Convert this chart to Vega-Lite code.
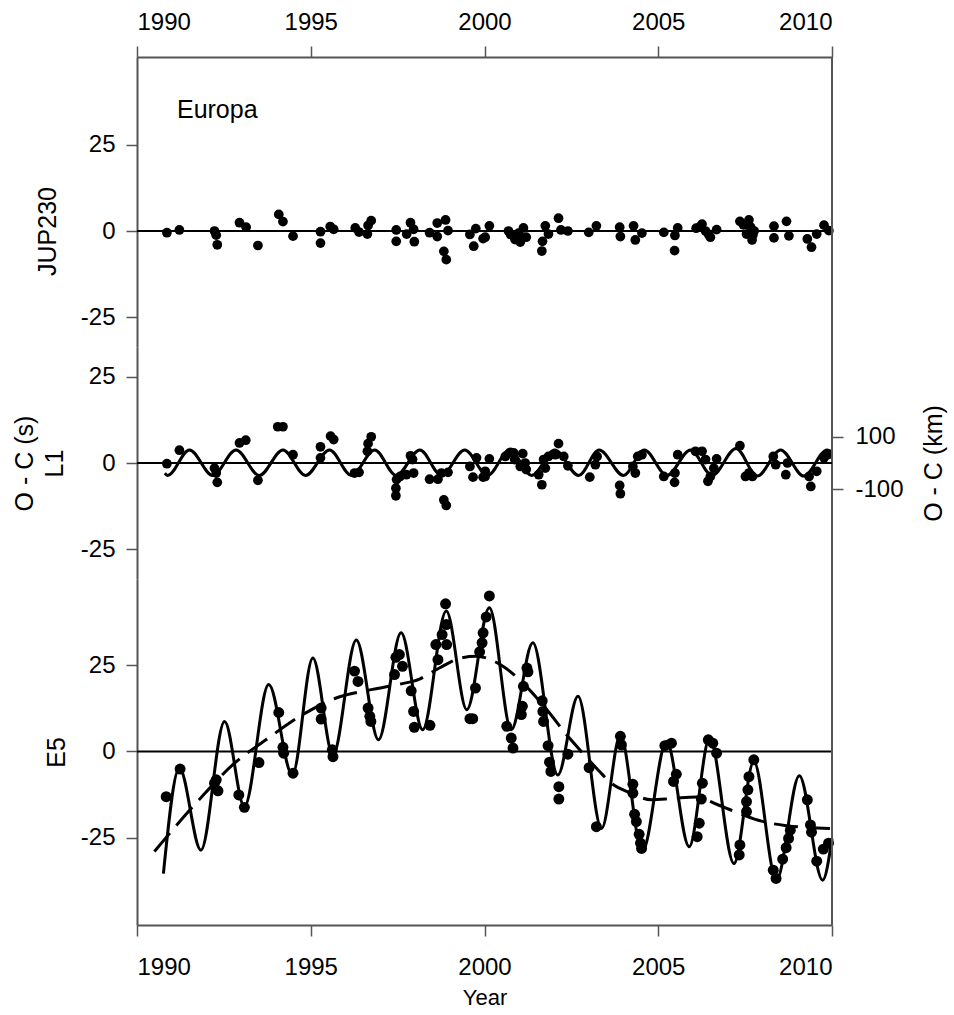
{
  "$schema": "https://vega.github.io/schema/vega-lite/v6.json",
  "background": "white",
  "padding": {"left": 11, "top": 10, "right": 4, "bottom": 4},
  "spacing": 0,
  "bounds": "flush",
  "config": {
    "view": {"stroke": null},
    "font": "Liberation Sans",
    "text": {"font": "Liberation Sans"},
    "axis": {
      "labelFont": "Liberation Sans", "titleFont": "Liberation Sans",
      "labelFontSize": 24, "titleFontSize": 25, "titleFontWeight": "normal",
      "labelColor": "black", "titleColor": "black",
      "domainColor": "#555555", "domainWidth": 2,
      "tickColor": "#555555", "tickWidth": 1.5, "tickSize": 11,
      "labelPadding": 11, "grid": false
    }
  },
  "datasets": {
    "one": [{}],
    "jup": [
      {"year":1990.86,"oc":-0.5},{"year":1991.22,"oc":0.3},{"year":1992.23,"oc":0},{"year":1992.28,"oc":-1.2},{"year":1992.31,"oc":-4},
      {"year":1992.95,"oc":2.4},{"year":1993.14,"oc":1.1},{"year":1993.48,"oc":-4.2},{"year":1994.08,"oc":4.8},{"year":1994.2,"oc":2.7},
      {"year":1994.49,"oc":-1.5},{"year":1995.28,"oc":-0.2},{"year":1995.28,"oc":-3.5},{"year":1995.56,"oc":1.3},{"year":1995.66,"oc":0.5},
      {"year":1996.28,"oc":0.9},{"year":1996.39,"oc":-0.3},{"year":1996.63,"oc":-0.9},{"year":1996.65,"oc":1.6},{"year":1996.74,"oc":3.0},
      {"year":1997.46,"oc":0.3},{"year":1997.46,"oc":-3},{"year":1997.76,"oc":-0.9},{"year":1997.87,"oc":2.4},{"year":1997.96,"oc":0.5},
      {"year":1997.98,"oc":-3.1},{"year":1998.42,"oc":-0.5},{"year":1998.64,"oc":-1.6},{"year":1998.64,"oc":2.3},{"year":1998.88,"oc":3.2},
      {"year":1998.95,"oc":0.1},{"year":1998.83,"oc":-5.9},{"year":1998.9,"oc":-8.3},{"year":1999.58,"oc":-1},{"year":1999.69,"oc":-4.4},
      {"year":1999.75,"oc":0.7},{"year":1999.96,"oc":-2.2},{"year":2000.02,"oc":-1.8},{"year":2000.14,"oc":1.5},{"year":2000.69,"oc":0},
      {"year":2000.75,"oc":-1},{"year":2000.82,"oc":-1.3},{"year":2000.88,"oc":-2.5},{"year":2000.98,"oc":-0.6},{"year":2001.03,"oc":-3.2},
      {"year":2001.08,"oc":-2.2},{"year":2001.12,"oc":0.9},{"year":2001.2,"oc":-1.8},{"year":2001.65,"oc":-5.8},{"year":2001.67,"oc":-3},
      {"year":2001.75,"oc":1.5},{"year":2001.84,"oc":-0.9},{"year":2002.13,"oc":3.7},{"year":2002.2,"oc":0.3},{"year":2002.4,"oc":0},
      {"year":2003.0,"oc":-0.4},{"year":2003.22,"oc":1.5},{"year":2003.89,"oc":1.1},{"year":2003.91,"oc":-1.6},{"year":2004.29,"oc":1.5},
      {"year":2004.34,"oc":-2.6},{"year":2004.53,"oc":-0.6},{"year":2005.16,"oc":-0.4},{"year":2005.47,"oc":-5.7},{"year":2005.48,"oc":-1.3},
      {"year":2005.56,"oc":0.9},{"year":2006.09,"oc":0.8},{"year":2006.2,"oc":1.2},{"year":2006.26,"oc":2},{"year":2006.36,"oc":0},
      {"year":2006.45,"oc":-1.0},{"year":2006.5,"oc":-1.8},{"year":2006.68,"oc":0.4},{"year":2007.35,"oc":2.8},{"year":2007.45,"oc":1.8},
      {"year":2007.54,"oc":-0.9},{"year":2007.61,"oc":3.2},{"year":2007.66,"oc":1.1},{"year":2007.7,"oc":-2.6},{"year":2007.72,"oc":-1.2},
      {"year":2007.76,"oc":0},{"year":2008.33,"oc":1.4},{"year":2008.33,"oc":-2},{"year":2008.69,"oc":2.8},{"year":2008.76,"oc":-1.4},
      {"year":2009.29,"oc":-2.3},{"year":2009.41,"oc":-4.7},{"year":2009.56,"oc":-0.9},{"year":2009.77,"oc":1.7},{"year":2009.91,"oc":0.1}
    ],
    "l1": [
      {"year":1990.86,"oc":-0.2},{"year":1991.22,"oc":3.7},{"year":1992.23,"oc":-1.5},{"year":1992.28,"oc":-2.9},{"year":1992.31,"oc":-5.6},
      {"year":1992.95,"oc":5.8},{"year":1993.13,"oc":6.6},{"year":1993.48,"oc":-5.0},{"year":1994.05,"oc":10.5},{"year":1994.2,"oc":10.5},
      {"year":1994.49,"oc":2.4},{"year":1995.28,"oc":4.7},{"year":1995.28,"oc":1.5},{"year":1995.57,"oc":7.8},{"year":1995.66,"oc":6.8},
      {"year":1996.26,"oc":-2.9},{"year":1996.39,"oc":-2.7},{"year":1996.63,"oc":3.4},{"year":1996.65,"oc":5.6},{"year":1996.74,"oc":7.6},
      {"year":1997.47,"oc":-4.8},{"year":1997.45,"oc":-7.3},{"year":1997.45,"oc":-9.5},{"year":1997.57,"oc":-3.9},{"year":1997.75,"oc":-3.4},
      {"year":1997.87,"oc":2.1},{"year":1997.96,"oc":-2.9},{"year":1997.93,"oc":1},{"year":1998.42,"oc":-4.7},{"year":1998.66,"oc":-4.7},
      {"year":1998.76,"oc":-2.9},{"year":1998.95,"oc":-2.7},{"year":1998.83,"oc":-10.7},{"year":1998.9,"oc":-12.3},{"year":1999.58,"oc":-1},
      {"year":1999.67,"oc":-4.1},{"year":1999.77,"oc":1.5},{"year":1999.96,"oc":-4.1},{"year":2000.02,"oc":-2.4},{"year":2000.02,"oc":-3.9},
      {"year":2000.14,"oc":1.2},{"year":2000.6,"oc":1.9},{"year":2000.74,"oc":3.1},{"year":2000.84,"oc":2.9},{"year":2000.87,"oc":1},
      {"year":2001.03,"oc":-1},{"year":2001.1,"oc":2.7},{"year":2001.17,"oc":0},{"year":2001.2,"oc":-1.9},{"year":2001.56,"oc":-3.4},
      {"year":2001.65,"oc":-6.3},{"year":2001.7,"oc":1},{"year":2001.75,"oc":-1.5},{"year":2001.84,"oc":1.9},{"year":2002.04,"oc":2.4},
      {"year":2002.13,"oc":5.6},{"year":2002.28,"oc":1.9},{"year":2002.4,"oc":-0.8},{"year":2003.03,"oc":-4.1},{"year":2003.19,"oc":-0.5},
      {"year":2003.24,"oc":1.9},{"year":2003.89,"oc":-6.5},{"year":2003.91,"oc":-8.9},{"year":2004.27,"oc":-1},{"year":2004.34,"oc":-2.9},
      {"year":2004.41,"oc":1.9},{"year":2004.53,"oc":2.4},{"year":2005.16,"oc":-3.9},{"year":2005.47,"oc":-5.6},{"year":2005.48,"oc":-2.9},
      {"year":2005.56,"oc":2.4},{"year":2006.07,"oc":3.4},{"year":2006.26,"oc":3.4},{"year":2006.36,"oc":1},{"year":2006.43,"oc":-5.3},
      {"year":2006.5,"oc":-3.9},{"year":2006.6,"oc":-1.5},{"year":2006.68,"oc":1.2},{"year":2007.35,"oc":5},{"year":2007.51,"oc":-3.9},
      {"year":2007.61,"oc":-2.9},{"year":2007.71,"oc":-3.9},{"year":2008.31,"oc":1.9},{"year":2008.38,"oc":-0.5},{"year":2008.67,"oc":-3.4},
      {"year":2008.72,"oc":0},{"year":2009.34,"oc":-3.9},{"year":2009.39,"oc":-6.8},{"year":2009.56,"oc":-2.4},{"year":2009.77,"oc":1.5},
      {"year":2009.87,"oc":2.4}
    ],
    "l1fit": [
      {"year":1990.8,"oc":-3.0},{"year":1990.88,"oc":-3.6},{"year":1991.51,"oc":3.8},{"year":1992.18,"oc":-3.6},{"year":1992.85,"oc":3.8},
      {"year":1993.52,"oc":-3.6},{"year":1994.2,"oc":3.8},{"year":1994.85,"oc":-3.6},{"year":1995.54,"oc":3.8},{"year":1996.17,"oc":-3.6},
      {"year":1996.84,"oc":3.8},{"year":1997.46,"oc":-3.6},{"year":1998.14,"oc":3.8},{"year":1998.76,"oc":-3.6},{"year":1999.43,"oc":3.8},
      {"year":2000.09,"oc":-3.6},{"year":2000.72,"oc":3.8},{"year":2001.36,"oc":-3.6},{"year":2002.02,"oc":3.8},{"year":2002.71,"oc":-3.6},
      {"year":2003.3,"oc":3.8},{"year":2004.0,"oc":-3.6},{"year":2004.6,"oc":3.8},{"year":2005.25,"oc":-3.6},{"year":2005.93,"oc":3.8},
      {"year":2006.55,"oc":-3.6},{"year":2007.24,"oc":4.2},{"year":2007.85,"oc":-3.8},{"year":2008.52,"oc":3.8},{"year":2009.19,"oc":-3.8},
      {"year":2009.86,"oc":3.8},{"year":2010.0,"oc":3.2}
    ],
    "e5": [
      {"year":1990.84,"oc":-13.1},{"year":1991.24,"oc":-5.1},{"year":1992.23,"oc":-9.2},{"year":1992.33,"oc":-11.4},{"year":1992.28,"oc":-8.2},
      {"year":1992.93,"oc":-12.6},{"year":1993.09,"oc":-16.2},{"year":1993.51,"oc":-3.2},{"year":1994.08,"oc":11.3},{"year":1994.2,"oc":1.2},
      {"year":1994.22,"oc":-0.5},{"year":1994.49,"oc":-6.3},{"year":1995.3,"oc":12.6},{"year":1995.3,"oc":9.4},{"year":1995.62,"oc":0.5},
      {"year":1995.64,"oc":-1.5},{"year":1996.26,"oc":23.3},{"year":1996.36,"oc":20.3},{"year":1996.65,"oc":12.6},{"year":1996.7,"oc":10.2},
      {"year":1996.73,"oc":8.7},{"year":1997.41,"oc":22.3},{"year":1997.45,"oc":27.3},{"year":1997.55,"oc":28.1},{"year":1997.64,"oc":24.7},
      {"year":1997.89,"oc":17.6},{"year":1997.96,"oc":11.6},{"year":1997.98,"oc":7},{"year":1998.43,"oc":7.6},{"year":1998.6,"oc":31},
      {"year":1998.66,"oc":26.6},{"year":1998.78,"oc":33.9},{"year":1998.88,"oc":42.8},{"year":1998.9,"oc":36.8},{"year":1998.91,"oc":31},
      {"year":1999.58,"oc":9.5},{"year":1999.66,"oc":9.5},{"year":1999.74,"oc":18.4},{"year":1999.86,"oc":28.9},{"year":1999.93,"oc":31.5},
      {"year":1999.96,"oc":34.4},{"year":2000.05,"oc":39},{"year":2000.14,"oc":45.1},{"year":2000.64,"oc":7.3},{"year":2000.77,"oc":3.9},
      {"year":2000.82,"oc":1},{"year":2001.06,"oc":10.7},{"year":2001.09,"oc":13.1},{"year":2001.12,"oc":18.9},{"year":2001.22,"oc":24.2},
      {"year":2001.25,"oc":23.1},{"year":2001.66,"oc":14.7},{"year":2001.68,"oc":11.6},{"year":2001.7,"oc":8.7},{"year":2001.83,"oc":1.7},
      {"year":2001.87,"oc":-3.1},{"year":2001.91,"oc":-5.8},{"year":2002.14,"oc":-10.2},{"year":2002.14,"oc":-13.8},{"year":2002.4,"oc":-0.8},
      {"year":2003.01,"oc":-4.7},{"year":2003.22,"oc":-21.8},{"year":2003.91,"oc":4.4},{"year":2003.94,"oc":1.9},{"year":2004.27,"oc":-9.5},
      {"year":2004.27,"oc":-12.1},{"year":2004.32,"oc":-18.2},{"year":2004.37,"oc":-20.3},{"year":2004.45,"oc":-24},{"year":2004.49,"oc":-26.6},
      {"year":2004.52,"oc":-28.1},{"year":2005.19,"oc":1.7},{"year":2005.38,"oc":2.4},{"year":2005.52,"oc":-6.6},{"year":2005.44,"oc":-8.7},
      {"year":2006.12,"oc":-24.7},{"year":2006.18,"oc":-20.8},{"year":2006.24,"oc":-13.8},{"year":2006.27,"oc":-9.2},{"year":2006.44,"oc":3.4},
      {"year":2006.57,"oc":2.4},{"year":2006.68,"oc":-0.5},{"year":2007.35,"oc":-27.1},{"year":2007.33,"oc":-30},{"year":2007.54,"oc":-17.4},
      {"year":2007.54,"oc":-14.5},{"year":2007.58,"oc":-11.1},{"year":2007.61,"oc":-7.3},{"year":2007.75,"oc":-2.4},{"year":2008.31,"oc":-34.4},
      {"year":2008.39,"oc":-36.8},{"year":2008.58,"oc":-31.2},{"year":2008.68,"oc":-27.9},{"year":2008.75,"oc":-25.2},{"year":2008.8,"oc":-22.8},
      {"year":2009.29,"oc":-14},{"year":2009.38,"oc":-21.3},{"year":2009.41,"oc":-23.4},{"year":2009.56,"oc":-31.8},{"year":2009.75,"oc":-28.3},
      {"year":2009.9,"oc":-26.6}
    ],
    "e5fit": [
      {"year":1990.76,"oc":-35.4},{"year":1991.22,"oc":-4.8},{"year":1991.84,"oc":-28.6},{"year":1992.52,"oc":8.7},{"year":1993.09,"oc":-16},
      {"year":1993.79,"oc":19.4},{"year":1994.47,"oc":-6.8},{"year":1995.06,"oc":27.1},{"year":1995.64,"oc":-1},{"year":1996.31,"oc":32.3},
      {"year":1996.95,"oc":3.4},{"year":1997.6,"oc":34.4},{"year":1998.22,"oc":6.3},{"year":1998.9,"oc":40.7},{"year":1999.49,"oc":12.1},
      {"year":2000.14,"oc":41.7},{"year":2000.77,"oc":6.3},{"year":2001.39,"oc":31.5},{"year":2002.11,"oc":-6.8},{"year":2002.69,"oc":16},
      {"year":2003.37,"oc":-22.3},{"year":2003.91,"oc":4.7},{"year":2004.54,"oc":-29},{"year":2005.24,"oc":2.9},{"year":2005.89,"oc":-27.6},
      {"year":2006.48,"oc":3.9},{"year":2007.18,"oc":-32.5},{"year":2007.75,"oc":-2.9},{"year":2008.4,"oc":-37.3},{"year":2009.06,"oc":-7},
      {"year":2009.73,"oc":-37.3},{"year":2010.0,"oc":-25.2}
    ],
    "e5trend": [
      {"year":1990.5,"oc":-29},{"year":1991.84,"oc":-13.4},{"year":1992.75,"oc":-3.9},{"year":1993.81,"oc":4.1},{"year":1994.77,"oc":10.7},
      {"year":1995.73,"oc":15.5},{"year":1996.78,"oc":18},{"year":1997.5,"oc":19.4},{"year":1998.13,"oc":21},{"year":1998.7,"oc":24.2},
      {"year":1999.28,"oc":27},{"year":1999.76,"oc":27.6},{"year":2000.53,"oc":24.7},{"year":2001.1,"oc":19.9},{"year":2001.8,"oc":12},
      {"year":2002.4,"oc":4.4},{"year":2002.83,"oc":-0.5},{"year":2003.31,"oc":-5.8},{"year":2003.65,"oc":-9.2},{"year":2004.2,"oc":-12},
      {"year":2004.8,"oc":-14},{"year":2005.43,"oc":-13.6},{"year":2006.1,"oc":-13.2},{"year":2006.68,"oc":-15.3},{"year":2007.44,"oc":-18.4},
      {"year":2007.97,"oc":-20.2},{"year":2008.69,"oc":-21.5},{"year":2009.94,"oc":-22.3}
    ]
  },
  "vconcat": [
    {
      "width": 695, "height": 290,
      "layer": [
        {
          "data": {"name": "jup"},
          "mark": {"type": "circle", "size": 95, "color": "black", "opacity": 1},
          "encoding": {
            "x": {"field": "year", "type": "quantitative", "scale": {"domain": [1990, 2010], "nice": false, "zero": false},
                  "axis": {"orient": "top", "values": [1990, 1995, 2000, 2005, 2010], "format": "d", "title": null, "labelPadding": 12}},
            "y": {"field": "oc", "type": "quantitative", "scale": {"domain": [-33.6, 50.4], "nice": false, "zero": false},
                  "axis": {"values": [-25, 0, 25], "labelExpr": "replace(datum.label, '−', '-')", "title": "JUP230", "titleX": -90, "titleY": 174, "titleBaseline": "middle"}}
          }
        },
        {
          "data": {"name": "one"},
          "mark": {"type": "rule", "color": "black", "strokeWidth": 2},
          "encoding": {"y": {"datum": 0, "type": "quantitative"}}
        },
        {
          "data": {"name": "one"},
          "mark": {"type": "rule", "color": "#555555", "strokeWidth": 2},
          "encoding": {"x": {"datum": 2010, "type": "quantitative"}}
        },
        {
          "data": {"name": "one"},
          "mark": {"type": "text", "text": "Europa", "align": "left", "baseline": "middle", "fontSize": 25, "color": "black"},
          "encoding": {
            "x": {"datum": 1991.15, "type": "quantitative"},
            "y": {"datum": 35, "type": "quantitative"}
          }
        }
      ]
    },
    {
      "width": 695, "height": 232,
      "layer": [
        {
          "layer": [
            {
              "data": {"name": "l1fit"},
              "mark": {"type": "line", "interpolate": "monotone", "color": "black", "strokeWidth": 3},
              "encoding": {
                "x": {"field": "year", "type": "quantitative", "scale": {"domain": [1990, 2010], "nice": false, "zero": false}, "axis": null},
                "y": {"field": "oc", "type": "quantitative", "scale": {"domain": [-33.6, 33.6], "nice": false, "zero": false},
                      "axis": {"values": [-25, 0, 25], "labelExpr": "replace(datum.label, '−', '-')", "title": ["O - C (s)", "L1"], "titleLineHeight": 30, "titleX": -113, "titleBaseline": "middle"}}
              }
            },
            {
              "data": {"name": "l1"},
              "mark": {"type": "circle", "size": 95, "color": "black", "opacity": 1},
              "encoding": {
                "x": {"field": "year", "type": "quantitative", "scale": {"domain": [1990, 2010], "nice": false, "zero": false}, "axis": null},
                "y": {"field": "oc", "type": "quantitative"}
              }
            },
            {
              "data": {"name": "one"},
              "mark": {"type": "rule", "color": "#555555", "strokeWidth": 2},
              "encoding": {"x": {"datum": 2010, "type": "quantitative", "axis": null}}
            }
          ]
        },
        {
          "data": {"name": "one"},
          "mark": {"type": "rule", "color": "black", "strokeWidth": 2},
          "encoding": {
            "y": {"datum": 0, "type": "quantitative", "scale": {"domain": [-446, 446], "nice": false, "zero": false},
                  "axis": {"orient": "right", "domain": false, "values": [-100, 100], "labelPadding": 12, "labelExpr": "replace(datum.label, '−', '-')", "title": "O - C (km)", "titleAngle": 270, "titleBaseline": "middle", "titleX": 101}}
          }
        }
      ],
      "resolve": {"scale": {"y": "independent"}, "axis": {"y": "independent"}}
    },
    {
      "width": 695, "height": 346,
      "layer": [
        {
          "data": {"name": "e5trend"},
          "mark": {"type": "line", "interpolate": "monotone", "color": "black", "strokeWidth": 3, "strokeDash": [24, 10]},
          "encoding": {
            "x": {"field": "year", "type": "quantitative", "scale": {"domain": [1990, 2010], "nice": false, "zero": false},
                  "axis": {"orient": "bottom", "values": [1990, 1995, 2000, 2005, 2010], "format": "d", "title": "Year", "titleFontSize": 22, "labelPadding": 19, "titlePadding": 8}},
            "y": {"field": "oc", "type": "quantitative", "scale": {"domain": [-50.3, 50], "nice": false, "zero": false},
                  "axis": {"values": [-25, 0, 25], "labelExpr": "replace(datum.label, '−', '-')", "title": "E5", "titleX": -81, "titleBaseline": "middle"}}
          }
        },
        {
          "data": {"name": "e5fit"},
          "mark": {"type": "line", "interpolate": "monotone", "color": "black", "strokeWidth": 3},
          "encoding": {
            "x": {"field": "year", "type": "quantitative"},
            "y": {"field": "oc", "type": "quantitative"}
          }
        },
        {
          "data": {"name": "e5"},
          "mark": {"type": "circle", "size": 120, "color": "black", "opacity": 1},
          "encoding": {
            "x": {"field": "year", "type": "quantitative"},
            "y": {"field": "oc", "type": "quantitative"}
          }
        },
        {
          "data": {"name": "one"},
          "mark": {"type": "rule", "color": "black", "strokeWidth": 2},
          "encoding": {"y": {"datum": 0, "type": "quantitative"}}
        },
        {
          "data": {"name": "one"},
          "mark": {"type": "rule", "color": "#555555", "strokeWidth": 2},
          "encoding": {"x": {"datum": 2010, "type": "quantitative"}}
        }
      ]
    }
  ]
}
